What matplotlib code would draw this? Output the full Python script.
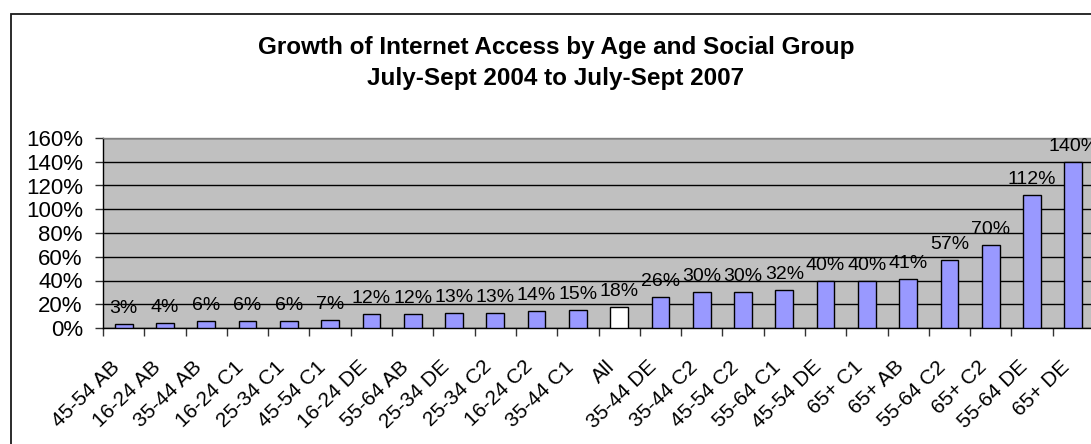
import numpy as np
import matplotlib
matplotlib.use("Agg")
import matplotlib.pyplot as plt
from matplotlib.patches import Rectangle
from matplotlib.ticker import FuncFormatter, FixedLocator
import matplotlib.transforms as mtransforms

plt.rcParams['font.family'] = ['Liberation Sans', 'DejaVu Sans']

# growth in access, sorted ascending
groups = ["45-54 AB", "16-24 AB", "35-44 AB", "16-24 C1", "25-34 C1", "45-54 C1",
          "16-24 DE", "55-64 AB", "25-34 DE", "25-34 C2", "16-24 C2", "35-44 C1",
          "All", "35-44 DE", "35-44 C2", "45-54 C2", "55-64 C1", "45-54 DE",
          "65+ C1", "65+ AB", "55-64 C2", "65+ C2", "55-64 DE", "65+ DE"]
growth = [3, 4, 6, 6, 6, 7, 12, 12, 13, 13, 14, 15, 18, 26, 30, 30, 32, 40,
          40, 41, 57, 70, 112, 140]
y_ticks = [0, 20, 40, 60, 80, 100, 120, 140, 160]

fig = plt.figure(figsize=(10.91, 4.44), dpi=100)

# chart border
fig.add_artist(Rectangle((11/1091, -0.1), 2.0, 1 - 14/444 + 0.1,
                         transform=fig.transFigure, fill=False,
                         edgecolor='#1a1a1a', lw=1.3, clip_on=False))

fig.text(556/1091, 1 - 54/444, "Growth of Internet Access by Age and Social Group",
         ha='center', va='baseline', fontsize=17.5, fontweight='bold')
fig.text(556/1091, 1 - 85/444, "July-Sept 2004 to July-Sept 2007",
         ha='center', va='baseline', fontsize=17.5, fontweight='bold')

ax = fig.add_axes([103/1091, 1 - 328/444, 991/1091, 190/444])
ax.set_facecolor('#C0C0C0')

x = np.arange(len(groups))
colors = ['white' if g == "All" else '#9999FF' for g in groups]
ax.bar(x, growth, width=0.43, color=colors, edgecolor='black', linewidth=1.0, zorder=3)

for xi, v in zip(x, growth):
    ax.annotate(f"{v}%", (xi, v), xytext=(0, 5), textcoords='offset points',
                ha='center', va='bottom', fontsize=14, zorder=4,
                annotation_clip=False)

ax.set_xlim(-0.5, len(groups) - 0.5)
ax.set_ylim(0, 160)
ax.set_yticks(y_ticks)
ax.yaxis.set_major_formatter(FuncFormatter(lambda v, p: f"{int(v)}%"))
ax.yaxis.grid(True, color='black', lw=1.0, zorder=1)
ax.set_axisbelow(True)

ax.set_xticks(x)
ax.set_xticklabels(groups, rotation=44, ha='right', va='center',
                   rotation_mode='anchor', fontsize=15)
ax.xaxis.set_minor_locator(FixedLocator(np.arange(len(groups) + 1) - 0.5))
ax.tick_params(axis='x', which='major', length=0, pad=26)
ax.tick_params(axis='x', which='minor', length=5.5, width=1, color='#333333')
ax.tick_params(axis='y', length=5.5, width=1, color='#333333', pad=9, labelsize=16)

# nudge the slanted labels left so they end under their bars
shift = mtransforms.ScaledTranslation(-5/72, 0, fig.dpi_scale_trans)
for lab in ax.get_xticklabels():
    lab.set_transform(lab.get_transform() + shift)

for s in ['left', 'bottom']:
    ax.spines[s].set_color('black')
    ax.spines[s].set_linewidth(1.0)
for s in ['top', 'right']:
    ax.spines[s].set_color('#808080')
    ax.spines[s].set_linewidth(1.0)

fig.savefig("out.png", dpi=100)
